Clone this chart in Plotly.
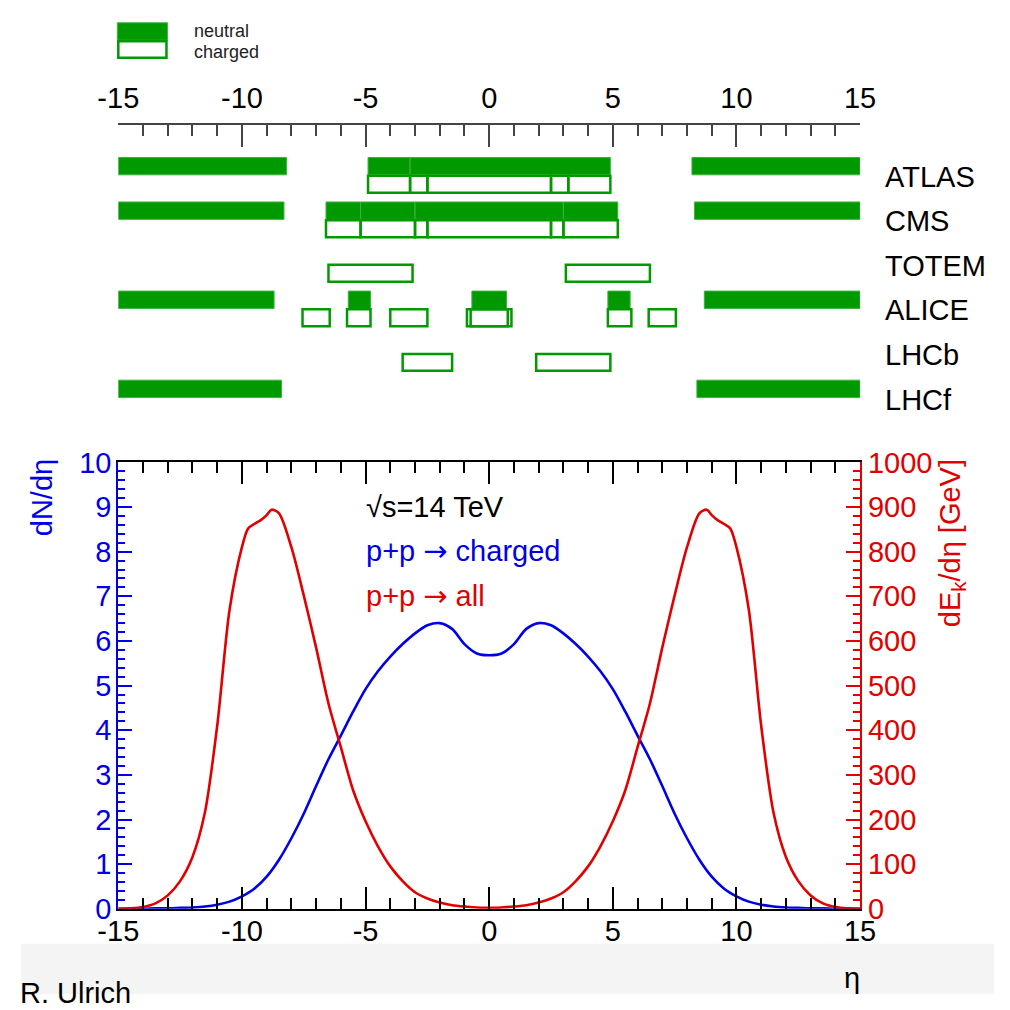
import plotly.graph_objects as go

# ---------------- data ----------------
eta_n = [-15, -14.5, -14, -13.5, -13, -12.5, -12, -11.5, -11, -10.5, -10, -9.5, -9, -8.5, -8,
         -7.5, -7, -6.5, -6, -5.5, -5, -4.5, -4, -3.5, -3, -2.5, -2, -1.5, -1, -0.5, 0,
         0.5, 1, 1.5, 2, 2.5, 3, 3.5, 4, 4.5, 5, 5.5, 6, 6.5, 7, 7.5, 8, 8.5, 9, 9.5, 10,
         10.5, 11, 11.5, 12, 12.5, 13, 13.5, 14, 14.5, 15]
dn_deta = [0.0, 0.0, 0.0, 0.01, 0.01, 0.02, 0.03, 0.05, 0.09, 0.16, 0.28, 0.45, 0.72, 1.1, 1.58,
           2.13, 2.75, 3.35, 3.88, 4.42, 4.92, 5.32, 5.65, 5.93, 6.17, 6.35, 6.40, 6.27, 5.93, 5.72, 5.68,
           5.72, 5.93, 6.27, 6.40, 6.35, 6.17, 5.93, 5.65, 5.32, 4.92, 4.42, 3.88, 3.35, 2.75, 2.13, 1.58,
           1.1, 0.72, 0.45, 0.28, 0.16, 0.09, 0.05, 0.03, 0.02, 0.01, 0.01, 0.0, 0.0, 0.0]

eta_e = [-15, -14.5, -14, -13.5, -13, -12.5, -12, -11.5, -11, -10.5, -10, -9.75, -9.5, -9.25, -9,
         -8.8, -8.5, -8, -7.5, -7, -6.5, -6, -5.5, -5, -4.5, -4, -3.5, -3, -2.5, -2, -1.5, -1, -0.5, 0,
         0.5, 1, 1.5, 2, 2.5, 3, 3.5, 4, 4.5, 5, 5.5, 6, 6.5, 7, 7.5, 8, 8.5, 8.8, 9, 9.25, 9.5, 9.75,
         10, 10.5, 11, 11.5, 12, 12.5, 13, 13.5, 14, 14.5, 15]
dek_deta = [0, 1, 4, 12, 30, 62, 116, 215, 410, 670, 810, 852, 862, 870, 882,
            894, 886, 810, 702, 585, 460, 362, 265, 196, 140, 95, 62, 37, 23, 14, 8, 5, 3, 2,
            3, 5, 8, 14, 23, 37, 62, 95, 140, 196, 265, 362, 460, 585, 702, 810, 886, 894, 882, 870, 862, 852,
            810, 670, 410, 215, 116, 62, 30, 12, 4, 1, 0]

detectors = ["ATLAS", "CMS", "TOTEM", "ALICE", "LHCb", "LHCf"]
neutral_lo = {"ATLAS": [-15, -4.9, -3.2, 8.2],
              "CMS": [-15, -6.6, -5.2, -3.0, 3.0, 8.3],
              "TOTEM": [],
              "ALICE": [-15, -5.7, -0.7, 4.8, 8.7],
              "LHCb": [],
              "LHCf": [-15, 8.4]}
neutral_hi = {"ATLAS": [-8.2, -3.2, 4.9, 15],
              "CMS": [-8.3, -5.2, -3.0, 3.0, 5.2, 15],
              "TOTEM": [],
              "ALICE": [-8.7, -4.8, 0.7, 5.7, 15],
              "LHCb": [],
              "LHCf": [-8.4, 15]}
charged_lo = {"ATLAS": [-4.9, -3.2, -2.5, 2.5, 3.2],
              "CMS": [-6.6, -5.2, -3.0, -2.5, 2.5, 3.0],
              "TOTEM": [-6.5, 3.1],
              "ALICE": [-7.55, -5.75, -4.0, -0.9, -0.75, 4.8, 6.45],
              "LHCb": [-3.5, 1.9],
              "LHCf": []}
charged_hi = {"ATLAS": [-3.2, -2.5, 2.5, 3.2, 4.9],
              "CMS": [-5.2, -3.0, -2.5, 2.5, 3.0, 5.2],
              "TOTEM": [-3.1, 6.5],
              "ALICE": [-6.45, -4.8, -2.5, 0.9, 0.75, 5.75, 7.55],
              "LHCb": [-1.5, 4.9],
              "LHCf": []}

x_ticks = [-15, -10, -5, 0, 5, 10, 15]

# ---------------- style ----------------
W = 1010
FONT = "Liberation Sans, Arial, Helvetica, sans-serif"
BLUE = "#0000e6"
RED = "#e00000"
GREEN = "#009900"
GREEN_EDGE = "#3cb43c"
FS = 29
ARROW = "<span style=\"font-family:'DejaVu Sans'\">→</span>"

def px(p):
    return p / W

def py(p):
    return 1 - p / W

fig = go.Figure()
fig.add_trace(go.Scatter(x=eta_n, y=dn_deta, mode="lines",
                         line=dict(color=BLUE, width=2.6, shape="spline", smoothing=0.8),
                         xaxis="x", yaxis="y", hoverinfo="skip", cliponaxis=False))
fig.add_trace(go.Scatter(x=eta_e, y=dek_deta, mode="lines",
                         line=dict(color=RED, width=2.6, shape="spline", smoothing=0.8),
                         xaxis="x", yaxis="y3", hoverinfo="skip", cliponaxis=False))
# invisible trace so the top axis is drawn
fig.add_trace(go.Scatter(x=[-15, 15], y=[0, 0], mode="markers", marker=dict(opacity=0),
                         xaxis="x2", yaxis="y2", hoverinfo="skip"))

shapes = []
NEU_H = 0.39
CHG_H = 0.40
for k, det in enumerate(detectors):
    for lo, hi in zip(neutral_lo[det], neutral_hi[det]):
        shapes.append(dict(type="rect", xref="x2", yref="y2", x0=lo, x1=hi, y0=k - NEU_H, y1=k,
                           fillcolor=GREEN, line=dict(color=GREEN_EDGE, width=1), layer="above"))
    for lo, hi in zip(charged_lo[det], charged_hi[det]):
        shapes.append(dict(type="rect", xref="x2", yref="y2", x0=lo, x1=hi, y0=k + 0.02, y1=k + CHG_H,
                           fillcolor="rgba(255,255,255,0)", line=dict(color=GREEN, width=2.5), layer="above"))

# legend boxes (top-left)
shapes.append(dict(type="rect", xref="paper", yref="paper", x0=px(100), x1=px(152), y0=py(25), y1=py(7),
                   fillcolor=GREEN, line=dict(color=GREEN_EDGE, width=1)))
shapes.append(dict(type="rect", xref="paper", yref="paper", x0=px(101), x1=px(151), y0=py(43), y1=py(26),
                   fillcolor="white", line=dict(color=GREEN, width=2.5)))
# light grey footer band
shapes.append(dict(type="rect", xref="paper", yref="paper", x0=0, x1=1, y0=0, y1=py(958),
                   fillcolor="#f4f4f4", line=dict(width=0), layer="below"))

annotations = []
for k, det in enumerate(detectors):
    annotations.append(dict(text=det, xref="paper", yref="y2", x=px(895), y=k, xanchor="left",
                            yanchor="middle", yshift=-2, showarrow=False,
                            font=dict(family=FONT, size=FS, color="black")))

annotations += [
    dict(text="neutral", xref="paper", yref="paper", x=px(177), y=py(16), xanchor="left", yanchor="middle",
         showarrow=False, font=dict(family=FONT, size=18, color="#222")),
    dict(text="charged", xref="paper", yref="paper", x=px(177), y=py(37), xanchor="left", yanchor="middle",
         showarrow=False, font=dict(family=FONT, size=18, color="#222")),
    dict(text="√s=14 TeV", xref="paper", yref="paper", x=px(356), y=py(507), xanchor="left", yanchor="middle",
         showarrow=False, font=dict(family=FONT, size=FS, color="black")),
    dict(text="p+p " + ARROW + " charged", xref="paper", yref="paper", x=px(356), y=py(552), xanchor="left",
         yanchor="middle", showarrow=False, font=dict(family=FONT, size=FS, color=BLUE)),
    dict(text="p+p " + ARROW + " all", xref="paper", yref="paper", x=px(356), y=py(599), xanchor="left",
         yanchor="middle", showarrow=False, font=dict(family=FONT, size=FS, color=RED)),
    dict(text="dN/dη", xref="paper", yref="paper", x=px(22), y=py(456), xanchor="center", yanchor="top",
         textangle=-90, showarrow=False, font=dict(family=FONT, size=FS, color=BLUE)),
    dict(text="dE<sub>k</sub>/dη [GeV]", xref="paper", yref="paper", x=px(966), y=py(456), xanchor="center",
         yanchor="top", textangle=-90, showarrow=False, font=dict(family=FONT, size=FS, color=RED)),
    dict(text="η", xref="paper", yref="paper", x=px(863), y=py(993), xanchor="center", yanchor="middle",
         showarrow=False, font=dict(family=FONT, size=FS, color="black")),
    dict(text="R. Ulrich", xref="paper", yref="paper", x=px(-3), y=py(990), xanchor="left", yanchor="top",
         showarrow=False, font=dict(family=FONT, size=FS, color="black")),
]

XDOM = [px(101), px(871)]
fig.update_layout(
    width=W, height=W, autosize=False,
    margin=dict(l=0, r=0, t=0, b=0),
    paper_bgcolor="white", plot_bgcolor="rgba(0,0,0,0)",
    showlegend=False,
    font=dict(family=FONT, size=FS, color="black"),
    xaxis=dict(domain=XDOM, anchor="y", range=[-15, 15], showgrid=False, zeroline=False,
               showline=True, linecolor="black", linewidth=2, mirror="ticks",
               ticks="inside", ticklen=22, tickwidth=1.5, tickcolor="black",
               tickvals=x_ticks, ticktext=[str(v) for v in x_ticks], ticklabelstandoff=-5,
               minor=dict(dtick=1, tick0=0, ticks="inside", ticklen=11, tickwidth=1.5, tickcolor="black"),
               tickfont=dict(family=FONT, size=FS, color="black")),
    yaxis=dict(domain=[py(922), py(461)], anchor="x", range=[0, 10], showgrid=False, zeroline=False,
               showline=True, linecolor=BLUE, linewidth=2, ticklabelstandoff=-1,
               ticks="inside", ticklen=14, tickwidth=1.5, tickcolor=BLUE, dtick=1, tick0=0,
               minor=dict(dtick=0.2, tick0=0, ticks="inside", ticklen=7, tickwidth=1.5, tickcolor=BLUE),
               tickfont=dict(family=FONT, size=FS, color=BLUE)),
    yaxis3=dict(overlaying="y", side="right", anchor="x", range=[0, 1000], showgrid=False, zeroline=False,
                showline=True, linecolor=RED, linewidth=2, ticklabelstandoff=0,
                ticks="inside", ticklen=14, tickwidth=1.5, tickcolor=RED, dtick=100, tick0=0,
                minor=dict(dtick=20, tick0=0, ticks="inside", ticklen=7, tickwidth=1.5, tickcolor=RED),
                tickfont=dict(family=FONT, size=FS, color=RED)),
    xaxis2=dict(domain=XDOM, anchor="y2", side="top", range=[-15, 15], showgrid=False, zeroline=False,
                showline=True, linecolor="#444", linewidth=1.5, ticklabelstandoff=4,
                ticks="inside", ticklen=22, tickwidth=1.5, tickcolor="#444",
                tickvals=x_ticks, ticktext=[str(v) for v in x_ticks],
                minor=dict(dtick=1, tick0=0, ticks="inside", ticklen=11, tickwidth=1.5, tickcolor="#444"),
                tickfont=dict(family=FONT, size=FS, color="black")),
    yaxis2=dict(domain=[py(400), py(113)], anchor="x2", range=[5.13, -1.109], visible=False),
    shapes=shapes,
    annotations=annotations,
)

fig.write_html("out.html")
